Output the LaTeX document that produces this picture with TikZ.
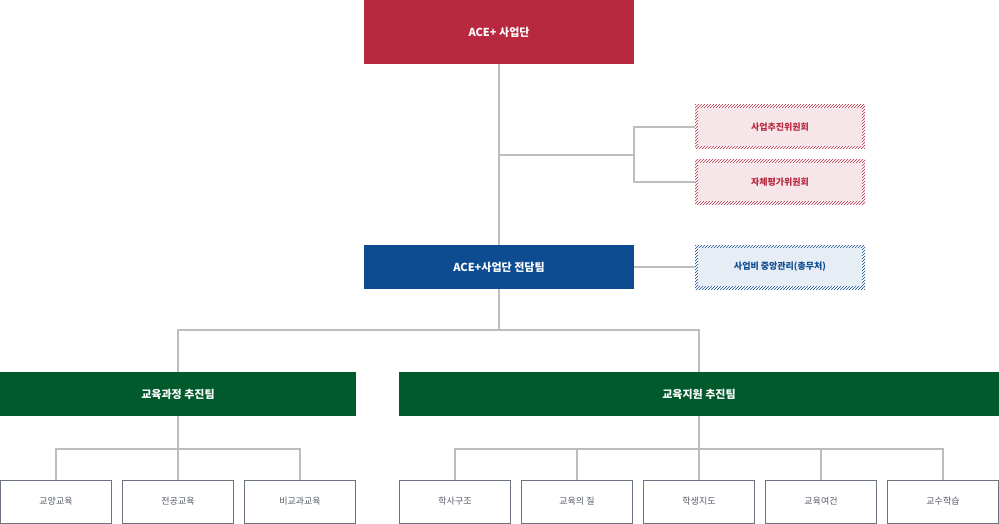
\documentclass[tikz,border=0pt]{standalone}
\usepackage{fontspec}
\setmainfont{Noto Sans CJK KR}
\usetikzlibrary{patterns}
\definecolor{aceRed}{HTML}{B8283F}
\definecolor{aceBlue}{HTML}{0E4C92}
\definecolor{aceGreen}{HTML}{005A2B}
\definecolor{lineGray}{HTML}{BDBDBD}
\definecolor{boxGray}{HTML}{6B7280}
\definecolor{pinkFill}{HTML}{F6E6EA}
\definecolor{blueFill}{HTML}{E6EDF5}
\begin{document}
\begin{tikzpicture}[x=1pt,y=-1pt,
    solid box/.style={minimum width=270pt, minimum height=44pt, inner sep=0pt, text=white, font=\bfseries\fontsize{11}{13}\selectfont},
    hatch box/.style={minimum width=170pt, minimum height=44pt, inner sep=0pt, font=\bfseries\fontsize{9}{11}\selectfont, pattern=north east lines, pattern color=#1, text=#1},
    inner fill/.style={path picture={\fill[#1] ([shift={(3pt,-3pt)}]path picture bounding box.north west) rectangle ([shift={(-3pt,3pt)}]path picture bounding box.south east);}},
    unit box/.style={draw=boxGray, line width=1pt, minimum width=111pt, minimum height=43pt, inner sep=0pt, text=boxGray!80!black, font=\fontsize{9}{11}\selectfont},
    link/.style={draw=lineGray, line width=2pt}
]
\useasboundingbox (0,0) rectangle (999,524);

% head
\node[solid box, fill=aceRed, minimum height=64pt] (ace) at (499,32) {ACE+ 사업단};
\node[solid box, fill=aceBlue] (team) at (499,267) {ACE+사업단 전담팀};

% committees
\node[hatch box=aceRed, inner fill=pinkFill] (promo) at (780,127) {사업추진위원회};
\node[hatch box=aceRed, inner fill=pinkFill] (eval) at (780,182) {자체평가위원회};
\node[hatch box=aceBlue, inner fill=blueFill] (budget) at (780,267) {사업비 중앙관리(총무처)};

% teams
\node[solid box, fill=aceGreen, minimum width=356pt] (curri) at (178,394) {교육과정 추진팀};
\node[solid box, fill=aceGreen, minimum width=600pt] (support) at (699,394) {교육지원 추진팀};

% units
\node[unit box] (u1) at (56,501.5) {교양교육};
\node[unit box] (u2) at (178,501.5) {전공교육};
\node[unit box] (u3) at (300,501.5) {비교과교육};
\node[unit box] (s1) at (455,501.5) {학사구조};
\node[unit box] (s2) at (577,501.5) {교육의 질};
\node[unit box] (s3) at (699,501.5) {학생지도};
\node[unit box] (s4) at (821,501.5) {교육여건};
\node[unit box] (s5) at (943,501.5) {교수학습};

% connectors
\coordinate (split) at (634,155);
\draw[link] (ace.south) -- (team.north);
\draw[link] (499,155) -- (split);
\draw[link] (promo.west) -| (split) |- (eval.west);
\draw[link] (team.east) -- (budget.west);
\draw[link] (team.south) -- (499,330);
\draw[link] (curri.north) |- (499,330) -| (support.north);
\draw[link] (curri.south) -- (178,449);
\draw[link] (u1.north) |- (178,449) -| (u3.north);
\draw[link] (178,449) -- (u2.north);
\draw[link] (support.south) -- (699,449);
\draw[link] (s1.north) |- (699,449) -| (s5.north);
\foreach \n in {s2,s3,s4} \draw[link] (\n.north) -- (\n.north |- 0,449);
\end{tikzpicture}
\end{document}
